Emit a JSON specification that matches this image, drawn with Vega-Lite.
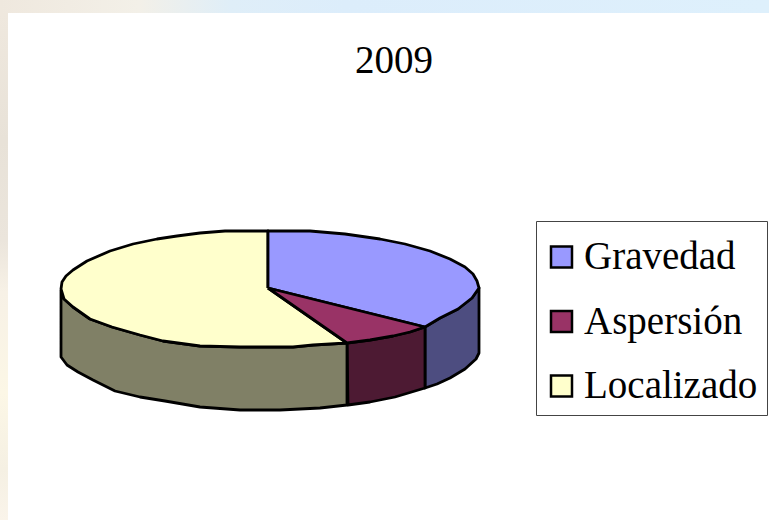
{"$schema":"https://vega.github.io/schema/vega-lite/v6.json","width":769,"height":520,"padding":0,"autosize":{"type":"none"},"background":"white","view":{"stroke":null},
"title":{"text":"2009","font":"Liberation Serif","fontSize":39,"fontWeight":"normal","color":"black","anchor":"middle","frame":"group","dx":9.5,"offset":-112,"baseline":"alphabetic"},
"datasets":{
"lados":[
{"parte":"Gravedad","orden":1,"x":425,"y":327},{"parte":"Gravedad","orden":2,"x":440,"y":318},{"parte":"Gravedad","orden":3,"x":458,"y":309},{"parte":"Gravedad","orden":4,"x":472,"y":298},{"parte":"Gravedad","orden":5,"x":479,"y":288},{"parte":"Gravedad","orden":6,"x":479,"y":353},{"parte":"Gravedad","orden":7,"x":476,"y":359},{"parte":"Gravedad","orden":8,"x":465,"y":369},{"parte":"Gravedad","orden":9,"x":450,"y":378},{"parte":"Gravedad","orden":10,"x":437,"y":384},{"parte":"Gravedad","orden":11,"x":425,"y":388},{"parte":"Gravedad","orden":12,"x":425,"y":327},
{"parte":"Aspersión","orden":1,"x":347,"y":343},{"parte":"Aspersión","orden":2,"x":370,"y":340},{"parte":"Aspersión","orden":3,"x":393,"y":336},{"parte":"Aspersión","orden":4,"x":410,"y":332},{"parte":"Aspersión","orden":5,"x":425,"y":327},{"parte":"Aspersión","orden":6,"x":425,"y":388},{"parte":"Aspersión","orden":7,"x":395,"y":397},{"parte":"Aspersión","orden":8,"x":370,"y":402},{"parte":"Aspersión","orden":9,"x":348,"y":405},{"parte":"Aspersión","orden":10,"x":347,"y":343},
{"parte":"Localizado","orden":1,"x":61,"y":290},{"parte":"Localizado","orden":2,"x":64,"y":299},{"parte":"Localizado","orden":3,"x":73,"y":307},{"parte":"Localizado","orden":4,"x":90,"y":319},{"parte":"Localizado","orden":5,"x":112,"y":327},{"parte":"Localizado","orden":6,"x":140,"y":335},{"parte":"Localizado","orden":7,"x":163,"y":341},{"parte":"Localizado","orden":8,"x":200,"y":346},{"parte":"Localizado","orden":9,"x":240,"y":347},{"parte":"Localizado","orden":10,"x":293,"y":347},{"parte":"Localizado","orden":11,"x":313,"y":345},{"parte":"Localizado","orden":12,"x":347,"y":343},{"parte":"Localizado","orden":13,"x":347,"y":405},{"parte":"Localizado","orden":14,"x":320,"y":408},{"parte":"Localizado","orden":15,"x":280,"y":410},{"parte":"Localizado","orden":16,"x":240,"y":410},{"parte":"Localizado","orden":17,"x":200,"y":407},{"parte":"Localizado","orden":18,"x":165,"y":401},{"parte":"Localizado","orden":19,"x":140,"y":397},{"parte":"Localizado","orden":20,"x":115,"y":391},{"parte":"Localizado","orden":21,"x":93,"y":380},{"parte":"Localizado","orden":22,"x":78,"y":372},{"parte":"Localizado","orden":23,"x":67,"y":365},{"parte":"Localizado","orden":24,"x":61,"y":357},{"parte":"Localizado","orden":25,"x":61,"y":290}
],
"tapa":[
{"parte":"Localizado","orden":1,"x":268,"y":288},{"parte":"Localizado","orden":2,"x":268,"y":231},{"parte":"Localizado","orden":3,"x":225,"y":231},{"parte":"Localizado","orden":4,"x":200,"y":233},{"parte":"Localizado","orden":5,"x":177,"y":236},{"parte":"Localizado","orden":6,"x":157,"y":239},{"parte":"Localizado","orden":7,"x":133,"y":244},{"parte":"Localizado","orden":8,"x":110,"y":251},{"parte":"Localizado","orden":9,"x":87,"y":261},{"parte":"Localizado","orden":10,"x":73,"y":270},{"parte":"Localizado","orden":11,"x":66,"y":276},{"parte":"Localizado","orden":12,"x":62,"y":282},{"parte":"Localizado","orden":13,"x":61,"y":289},{"parte":"Localizado","orden":14,"x":64,"y":299},{"parte":"Localizado","orden":15,"x":73,"y":307},{"parte":"Localizado","orden":16,"x":90,"y":319},{"parte":"Localizado","orden":17,"x":112,"y":327},{"parte":"Localizado","orden":18,"x":140,"y":335},{"parte":"Localizado","orden":19,"x":163,"y":341},{"parte":"Localizado","orden":20,"x":200,"y":346},{"parte":"Localizado","orden":21,"x":240,"y":347},{"parte":"Localizado","orden":22,"x":293,"y":347},{"parte":"Localizado","orden":23,"x":313,"y":345},{"parte":"Localizado","orden":24,"x":347,"y":343},{"parte":"Localizado","orden":25,"x":268,"y":288},
{"parte":"Gravedad","orden":1,"x":268,"y":288},{"parte":"Gravedad","orden":2,"x":268,"y":231},{"parte":"Gravedad","orden":3,"x":310,"y":231},{"parte":"Gravedad","orden":4,"x":345,"y":234},{"parte":"Gravedad","orden":5,"x":380,"y":239},{"parte":"Gravedad","orden":6,"x":405,"y":244},{"parte":"Gravedad","orden":7,"x":430,"y":251},{"parte":"Gravedad","orden":8,"x":450,"y":259},{"parte":"Gravedad","orden":9,"x":465,"y":267},{"parte":"Gravedad","orden":10,"x":473,"y":274},{"parte":"Gravedad","orden":11,"x":477,"y":281},{"parte":"Gravedad","orden":12,"x":479,"y":288},{"parte":"Gravedad","orden":13,"x":472,"y":298},{"parte":"Gravedad","orden":14,"x":458,"y":309},{"parte":"Gravedad","orden":15,"x":440,"y":318},{"parte":"Gravedad","orden":16,"x":425,"y":327},{"parte":"Gravedad","orden":17,"x":268,"y":288},
{"parte":"Aspersión","orden":1,"x":268,"y":288},{"parte":"Aspersión","orden":2,"x":425,"y":327},{"parte":"Aspersión","orden":3,"x":410,"y":332},{"parte":"Aspersión","orden":4,"x":393,"y":336},{"parte":"Aspersión","orden":5,"x":370,"y":340},{"parte":"Aspersión","orden":6,"x":347,"y":343},{"parte":"Aspersión","orden":7,"x":268,"y":288}
]},
"layer":[
{"data":{"values":[{"x":0,"x2":769,"y":0,"y2":13}]},"mark":{"type":"rect","color":{"gradient":"linear","x1":0,"x2":1,"y1":0,"y2":0,"stops":[{"offset":0,"color":"#efe8de"},{"offset":0.18,"color":"#f3f0e8"},{"offset":0.3,"color":"#dfeef8"},{"offset":0.45,"color":"#dcedfb"},{"offset":1,"color":"#def0fc"}]}},"encoding":{"x":{"field":"x","type":"quantitative","scale":{"domain":[0,769],"nice":false,"zero":false},"axis":null},"x2":{"field":"x2"},"y":{"field":"y","type":"quantitative","scale":{"domain":[520,0],"nice":false,"zero":false},"axis":null},"y2":{"field":"y2"}}},
{"data":{"values":[{"x":0,"x2":8,"y":13,"y2":520}]},"mark":{"type":"rect","color":{"gradient":"linear","x1":0,"x2":0,"y1":0,"y2":1,"stops":[{"offset":0,"color":"#efe8de"},{"offset":0.25,"color":"#e8e2d8"},{"offset":0.45,"color":"#ebe5dc"},{"offset":0.55,"color":"#f7f1e6"},{"offset":0.75,"color":"#fcf7e6"},{"offset":0.9,"color":"#f5f0e3"},{"offset":1,"color":"#faf4ea"}]}},"encoding":{"x":{"field":"x","type":"quantitative","axis":null},"x2":{"field":"x2"},"y":{"field":"y","type":"quantitative","axis":null},"y2":{"field":"y2"}}},
{"data":{"name":"lados"},"mark":{"type":"line","stroke":"black","strokeWidth":2.8,"strokeJoin":"round","clip":false},"encoding":{"x":{"field":"x","type":"quantitative","axis":null},"y":{"field":"y","type":"quantitative","axis":null},"order":{"field":"orden","type":"quantitative"},"fill":{"field":"parte","type":"nominal","legend":null,"scale":{"domain":["Gravedad","Aspersión","Localizado"],"range":["#4d4d80","#4d1a33","#808066"]}}}},
{"data":{"name":"tapa"},"mark":{"type":"line","stroke":"black","strokeWidth":2.8,"strokeJoin":"round"},"encoding":{"x":{"field":"x","type":"quantitative","axis":null},"y":{"field":"y","type":"quantitative","axis":null},"order":{"field":"orden","type":"quantitative"},"fill":{"field":"parte","type":"nominal","scale":{"domain":["Gravedad","Aspersión","Localizado"],"range":["#9999ff","#993366","#ffffcc"]},"legend":{"title":" ","titleFontSize":1,"titlePadding":6.5,"orient":"none","legendX":536,"legendY":221,"padding":9,"fillColor":"white","strokeColor":"#444444","symbolType":"square","symbolSize":441,"symbolOffset":-3,"symbolStrokeColor":"black","symbolStrokeWidth":2.5,"labelFont":"Liberation Serif","labelFontSize":39,"labelColor":"black","labelOffset":3,"labelLimit":400,"rowPadding":24.5}}}}
],
"resolve":{"scale":{"fill":"independent"}}}
